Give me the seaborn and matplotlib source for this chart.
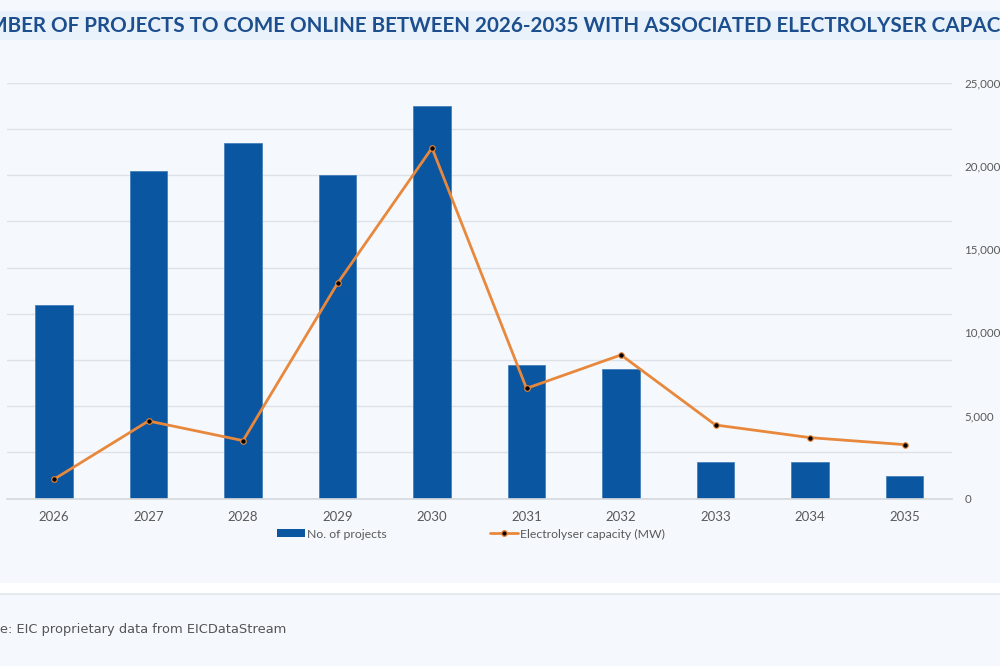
import numpy as np
import pandas as pd
import matplotlib
matplotlib.use('Agg')
import matplotlib.pyplot as plt
import seaborn as sns
from matplotlib.patches import Patch, Rectangle
from matplotlib.lines import Line2D
from matplotlib.ticker import FuncFormatter

# 数据
years = ['2026', '2027', '2028', '2029', '2030', '2031', '2032', '2033', '2034', '2035']
projects = [42, 71, 77, 70, 85, 29, 28, 8, 8, 5]
capacity_mw = [1170, 4670, 3490, 12940, 21080, 6630, 8640, 4430, 3670, 3250]
title = 'NUMBER OF PROJECTS TO COME ONLINE BETWEEN 2026-2035 WITH ASSOCIATED ELECTROLYSER CAPACITY'
source = 'Source: EIC proprietary data from EICDataStream'
bar_label = 'No. of projects'
line_label = 'Electrolyser capacity (MW)'

df = pd.DataFrame({'year': years, 'projects': projects, 'capacity': capacity_mw})

bg = '#f5f9fd'
blue = '#0b56a1'
orange = '#e8883c'
grey = '#595959'

sns.set_theme(style='white')
plt.rcParams['font.family'] = ['Lato', 'DejaVu Sans']

fig = plt.figure(figsize=(10, 6.66), dpi=100, facecolor=bg)
# 标题栏和底部分隔
fig.patches.append(Rectangle((0, 1 - 40 / 666), 1, 29 / 666, transform=fig.transFigure,
                             facecolor='#e9f2fb', edgecolor='none', zorder=0))
fig.patches.append(Rectangle((0, 1 - 593 / 666), 1, 10 / 666, transform=fig.transFigure,
                             facecolor='white', edgecolor='none', zorder=0))
fig.add_artist(Line2D([0, 1], [1 - 593.5 / 666] * 2, transform=fig.transFigure,
                      color='#e2e7ed', lw=1.2))

ax = fig.add_axes([6.75 / 1000, 1 - 498.7 / 666, 945 / 1000, 416 / 666])
ax.set_facecolor('none')
sns.barplot(data=df, x='year', y='projects', color=blue, width=0.4, ax=ax,
            saturation=1, edgecolor='#3a78b8', linewidth=0.5, zorder=2)
ax.set_ylim(0, 90)
ax.set_yticks(np.arange(0, 91, 10))
ax.yaxis.grid(True, color='#dde2e8', lw=1)
ax.set_axisbelow(True)
ax.set_xlabel('')
ax.set_ylabel('')
for s in ['top', 'left', 'right']:
    ax.spines[s].set_visible(False)
ax.spines['bottom'].set_color('#d6d9dd')

ax2 = ax.twinx()
sns.pointplot(data=df, x='year', y='capacity', color=orange, markers='o',
              markersize=4, linewidth=2, ax=ax2)
for ln in ax2.lines:
    ln.set_markerfacecolor('black')
    ln.set_markeredgecolor(orange)
    ln.set_markeredgewidth(0.8)
ax2.set_ylim(0, 25000)
ax2.set_yticks(np.arange(0, 25001, 5000))
ax2.yaxis.set_major_formatter(FuncFormatter(lambda v, p: f'{int(v):,}'))
ax2.tick_params(axis='y', left=False, right=False, labelsize=8.3, labelcolor=grey, pad=3)
ax2.set_ylabel('')
ax2.set_xlim(-0.5, 9.5)
for s in ax2.spines.values():
    s.set_visible(False)

# twinx 会重新打开左侧刻度
ax.tick_params(axis='y', left=False, right=False, labelleft=False)
ax.tick_params(axis='x', bottom=False, labelsize=9.5, labelcolor=grey, pad=3)

handles = [Patch(facecolor=blue, edgecolor='none'),
           Line2D([0], [0], color=orange, lw=2, marker='o', markersize=4,
                  markerfacecolor='black', markeredgecolor=orange)]
fig.legend(handles, [bar_label, line_label], loc='center', bbox_to_anchor=(0.471, 1 - 534 / 666),
           ncol=2, frameon=False, fontsize=8.8, labelcolor=grey, columnspacing=8.5,
           handlelength=2.3, handletextpad=0.15, handleheight=0.6)

fig.text(0.494, 1 - 25.5 / 666, title, ha='center', va='center', fontsize=14.9,
         fontweight='bold', color='#1d4f8e')
fig.text(-0.037, 1 - 629 / 666, source, ha='left', va='center', fontsize=9.4,
         color='#555555', family=['DejaVu Sans'])

fig.savefig('out.png', dpi=100, facecolor=bg)
